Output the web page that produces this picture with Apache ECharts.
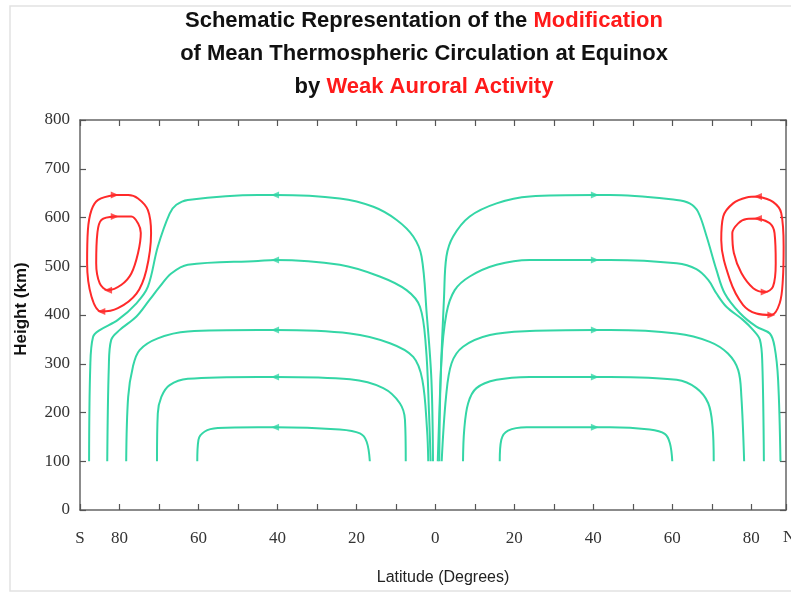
<!DOCTYPE html>
<html>
<head>
<meta charset="utf-8">
<script src="https://cdn.jsdelivr.net/npm/echarts@6/dist/echarts.min.js"></script>
<style>html,body{margin:0;padding:0;background:#fff}#c{width:791px;height:594px}</style>
</head>
<body>
<div id="c"></div>
<script>
// ---- data (latitude in degrees, S negative; height in km) ----
const yTicks = [0, 100, 200, 300, 400, 500, 600, 700, 800];
const xTickLabels = {'-90': 'S', '-80': '80', '-60': '60', '-40': '40', '-20': '20', '0': '0', '20': '20', '40': '40', '60': '60', '80': '80'};

const south645 = [[-87.7,100],[-87.4,294],[-86.7,355],[-85.0,369],[-80.4,390],[-75.7,424],[-72.8,458],[-70.3,540],[-67.3,608],[-65.6,626],[-62.7,636],[-44.9,646],[-40.6,646],[-24.2,639],[-15.7,622],[-9.8,595],[-5.6,561],[-3.5,520],[-2.2,403],[-1.0,267],[-0.6,100]];
const south510 = [[-83.1,100],[-82.7,294],[-82.1,349],[-80.0,369],[-75.7,397],[-72.4,431],[-69.8,458],[-66.9,485],[-62.7,503],[-44.9,511],[-40.6,513],[-24.2,503],[-14.1,479],[-7.3,451],[-3.9,417],[-2.4,335],[-1.6,198],[-1.2,100]];
const south370 = [[-78.3,100],[-77.8,232],[-76.6,294],[-74.9,328],[-70.3,352],[-62.7,366],[-44.9,369],[-40.6,369],[-21.6,362],[-11.5,342],[-5.6,314],[-3.3,267],[-2.1,164],[-1.8,100]];
const south270 = [[-70.5,100],[-70.3,198],[-69.4,232],[-67.3,256],[-62.7,269],[-44.9,273],[-40.6,273],[-21.6,268],[-13.2,250],[-9.0,219],[-7.7,185],[-7.5,100]];
const south165 = [[-60.3,100],[-60.0,144],[-58.4,161],[-55.1,168],[-44.9,170],[-40.6,170],[-24.2,165],[-19.1,157],[-17.4,140],[-16.6,100]];

const north645 = [[0.6,100],[1.3,267],[2.2,438],[2.8,520],[4.5,561],[8.7,602],[15.5,629],[23.9,643],[40.4,646],[44.2,646],[61.1,636],[64.4,629],[66.5,612],[68.7,561],[71.2,492],[73.3,444],[77.1,404],[81.3,376],[84.7,362],[85.9,335],[86.8,267],[87.4,100]];
const north510 = [[1.0,100],[1.5,301],[2.8,403],[4.9,451],[8.7,479],[15.5,503],[23.9,513],[40.4,513],[44.2,513],[61.1,506],[66.1,494],[69.1,472],[71.2,444],[73.7,417],[77.9,390],[80.5,369],[82.2,349],[82.8,301],[83.2,100]];
const north370 = [[1.6,100],[2.7,232],[4.1,301],[7.0,335],[13.8,359],[23.9,367],[40.4,369],[44.2,369],[61.1,362],[69.5,345],[74.1,321],[76.7,287],[77.5,232],[78.2,100]];
const north270 = [[7.0,100],[7.3,164],[8.3,219],[10.4,250],[15.5,267],[23.9,273],[40.4,273],[44.2,273],[61.1,267],[66.1,250],[69.1,219],[70.2,171],[70.5,100]];
const north165 = [[16.3,100],[16.7,144],[18.4,163],[23.1,170],[40.4,170],[44.2,170],[54.3,165],[58.1,156],[59.4,137],[60.0,100]];

const southOuterCell = [[-81.2,646],[-85.4,636],[-87.1,615],[-88.0,574],[-88.2,506],[-87.1,438],[-84.6,407],[-80.4,414],[-75.7,444],[-73.2,492],[-72.0,568],[-72.8,615],[-75.3,639],[-77.8,646],[-81.2,646]];
const southInnerCell = [[-81.2,602],[-84.6,595],[-85.6,568],[-85.9,506],[-85.0,465],[-82.9,451],[-79.5,462],[-77.0,485],[-75.3,527],[-74.6,568],[-75.3,588],[-77.0,602],[-81.2,602]];
const northOuterCell = [[81.7,643],[85.5,632],[87.6,609],[88.2,540],[88.0,472],[87.2,424],[85.1,400],[81.3,403],[77.9,421],[74.6,472],[72.4,554],[72.9,602],[75.4,629],[78.8,641],[81.7,643]];
const northInnerCell = [[81.7,598],[84.7,588],[85.9,568],[86.2,506],[85.5,458],[83.4,447],[80.5,455],[77.5,486],[75.6,527],[75.2,568],[76.7,588],[78.8,597],[81.7,598]];

const southGreenArrows = [[-40.6,646],[-40.6,513],[-40.6,369],[-40.6,273],[-40.6,170]];
const northGreenArrows = [[40.4,646],[40.4,513],[40.4,369],[40.4,273],[40.4,170]];
const southRedArrowsTop = [[-81.2,646],[-81.2,602]];
const southRedArrowsBottom = [[-84.6,407],[-82.9,451]];
const northRedArrowsTop = [[81.7,643],[81.7,598]];
const northRedArrowsBottom = [[85.1,400],[83.4,447]];

// ---- styling ----
const GREEN = '#34d6a6';
const RED = '#ff2a2a';

function curve(data, color) {
  return {type: 'line', data: data, smooth: 0.35, symbol: 'none',
    lineStyle: {color: color, width: 2}, z: 3, silent: true};
}
function arrows(data, color, rot) {
  return {type: 'scatter', data: data, symbol: 'triangle', symbolSize: [7, 8],
    symbolRotate: rot, itemStyle: {color: color}, z: 4, silent: true};
}

const chart = echarts.init(document.getElementById('c'), null, {renderer: 'canvas'});
const axisLineStyle = {color: '#666', width: 1.5};
const tickStyle = {inside: true, length: 6, lineStyle: {color: '#555', width: 1.2}};
const serif = 'Liberation Serif';

chart.setOption({
  animation: false,
  backgroundColor: '#fff',
  title: {
    left: 419, top: -1, textAlign: 'center',
    text: '{b|Schematic Representation of the }{r|Modification}\n{b|of Mean Thermospheric Circulation at Equinox}\n{b|by }{r|Weak Auroral Activity}',
    textStyle: {
      rich: {
        b: {fontFamily: 'Liberation Sans', fontWeight: 'bold', fontSize: 22, color: '#111', lineHeight: 33},
        r: {fontFamily: 'Liberation Sans', fontWeight: 'bold', fontSize: 22, color: '#ff1a1a', lineHeight: 33}
      }
    }
  },
  grid: {left: 80, right: 5, top: 120, bottom: 84},
  xAxis: [{
    type: 'value', min: -90, max: 88.8, interval: 10, position: 'bottom',
    axisLine: {show: true, onZero: false, lineStyle: axisLineStyle},
    axisTick: tickStyle,
    splitLine: {show: false},
    axisLabel: {fontFamily: serif, fontSize: 17, color: '#333', margin: 20,
      formatter: v => (xTickLabels[String(Math.round(v))] || '')}
  }, {
    type: 'value', min: -90, max: 88.8, interval: 10, position: 'top',
    axisLine: {show: true, onZero: false, lineStyle: axisLineStyle},
    axisTick: tickStyle,
    splitLine: {show: false}, axisLabel: {show: false}
  }],
  yAxis: [{
    type: 'value', min: 0, max: 800, interval: 100, position: 'left',
    axisLine: {show: true, onZero: false, lineStyle: axisLineStyle},
    axisTick: tickStyle,
    splitLine: {show: false},
    axisLabel: {fontFamily: serif, fontSize: 17, color: '#333', margin: 10,
      formatter: v => (yTicks.indexOf(v) >= 0 ? String(v) : '')}
  }, {
    type: 'value', min: 0, max: 800, interval: 100, position: 'right',
    axisLine: {show: true, onZero: false, lineStyle: axisLineStyle},
    axisTick: tickStyle,
    splitLine: {show: false}, axisLabel: {show: false}
  }],
  graphic: [
    {type: 'rect', shape: {x: 10, y: 6, width: 790, height: 585}, style: {fill: 'none', stroke: '#e2e2e2', lineWidth: 1.5}, silent: true},
    {type: 'text', x: 783, y: 538, style: {text: 'N', fontFamily: serif, fontSize: 17, fill: '#333', textVerticalAlign: 'middle'}},
    {type: 'text', x: 443, y: 578, style: {text: 'Latitude (Degrees)', fontFamily: 'Liberation Sans', fontSize: 16, fill: '#222', textAlign: 'center', textVerticalAlign: 'middle'}},
    {type: 'text', x: 21, y: 309, rotation: Math.PI / 2, style: {text: 'Height (km)', fontFamily: 'Liberation Sans', fontWeight: 'bold', fontSize: 17, fill: '#111', textAlign: 'center', textVerticalAlign: 'middle'}}
  ],
  series: [
    curve(south645, GREEN), curve(south510, GREEN), curve(south370, GREEN), curve(south270, GREEN), curve(south165, GREEN),
    curve(north645, GREEN), curve(north510, GREEN), curve(north370, GREEN), curve(north270, GREEN), curve(north165, GREEN),
    curve(southOuterCell, RED), curve(southInnerCell, RED), curve(northOuterCell, RED), curve(northInnerCell, RED),
    arrows(southGreenArrows, GREEN, 90), arrows(northGreenArrows, GREEN, -90),
    arrows(southRedArrowsTop, RED, -90), arrows(southRedArrowsBottom, RED, 90),
    arrows(northRedArrowsTop, RED, 90), arrows(northRedArrowsBottom, RED, -90)
  ]
});
</script>
</body>
</html>
